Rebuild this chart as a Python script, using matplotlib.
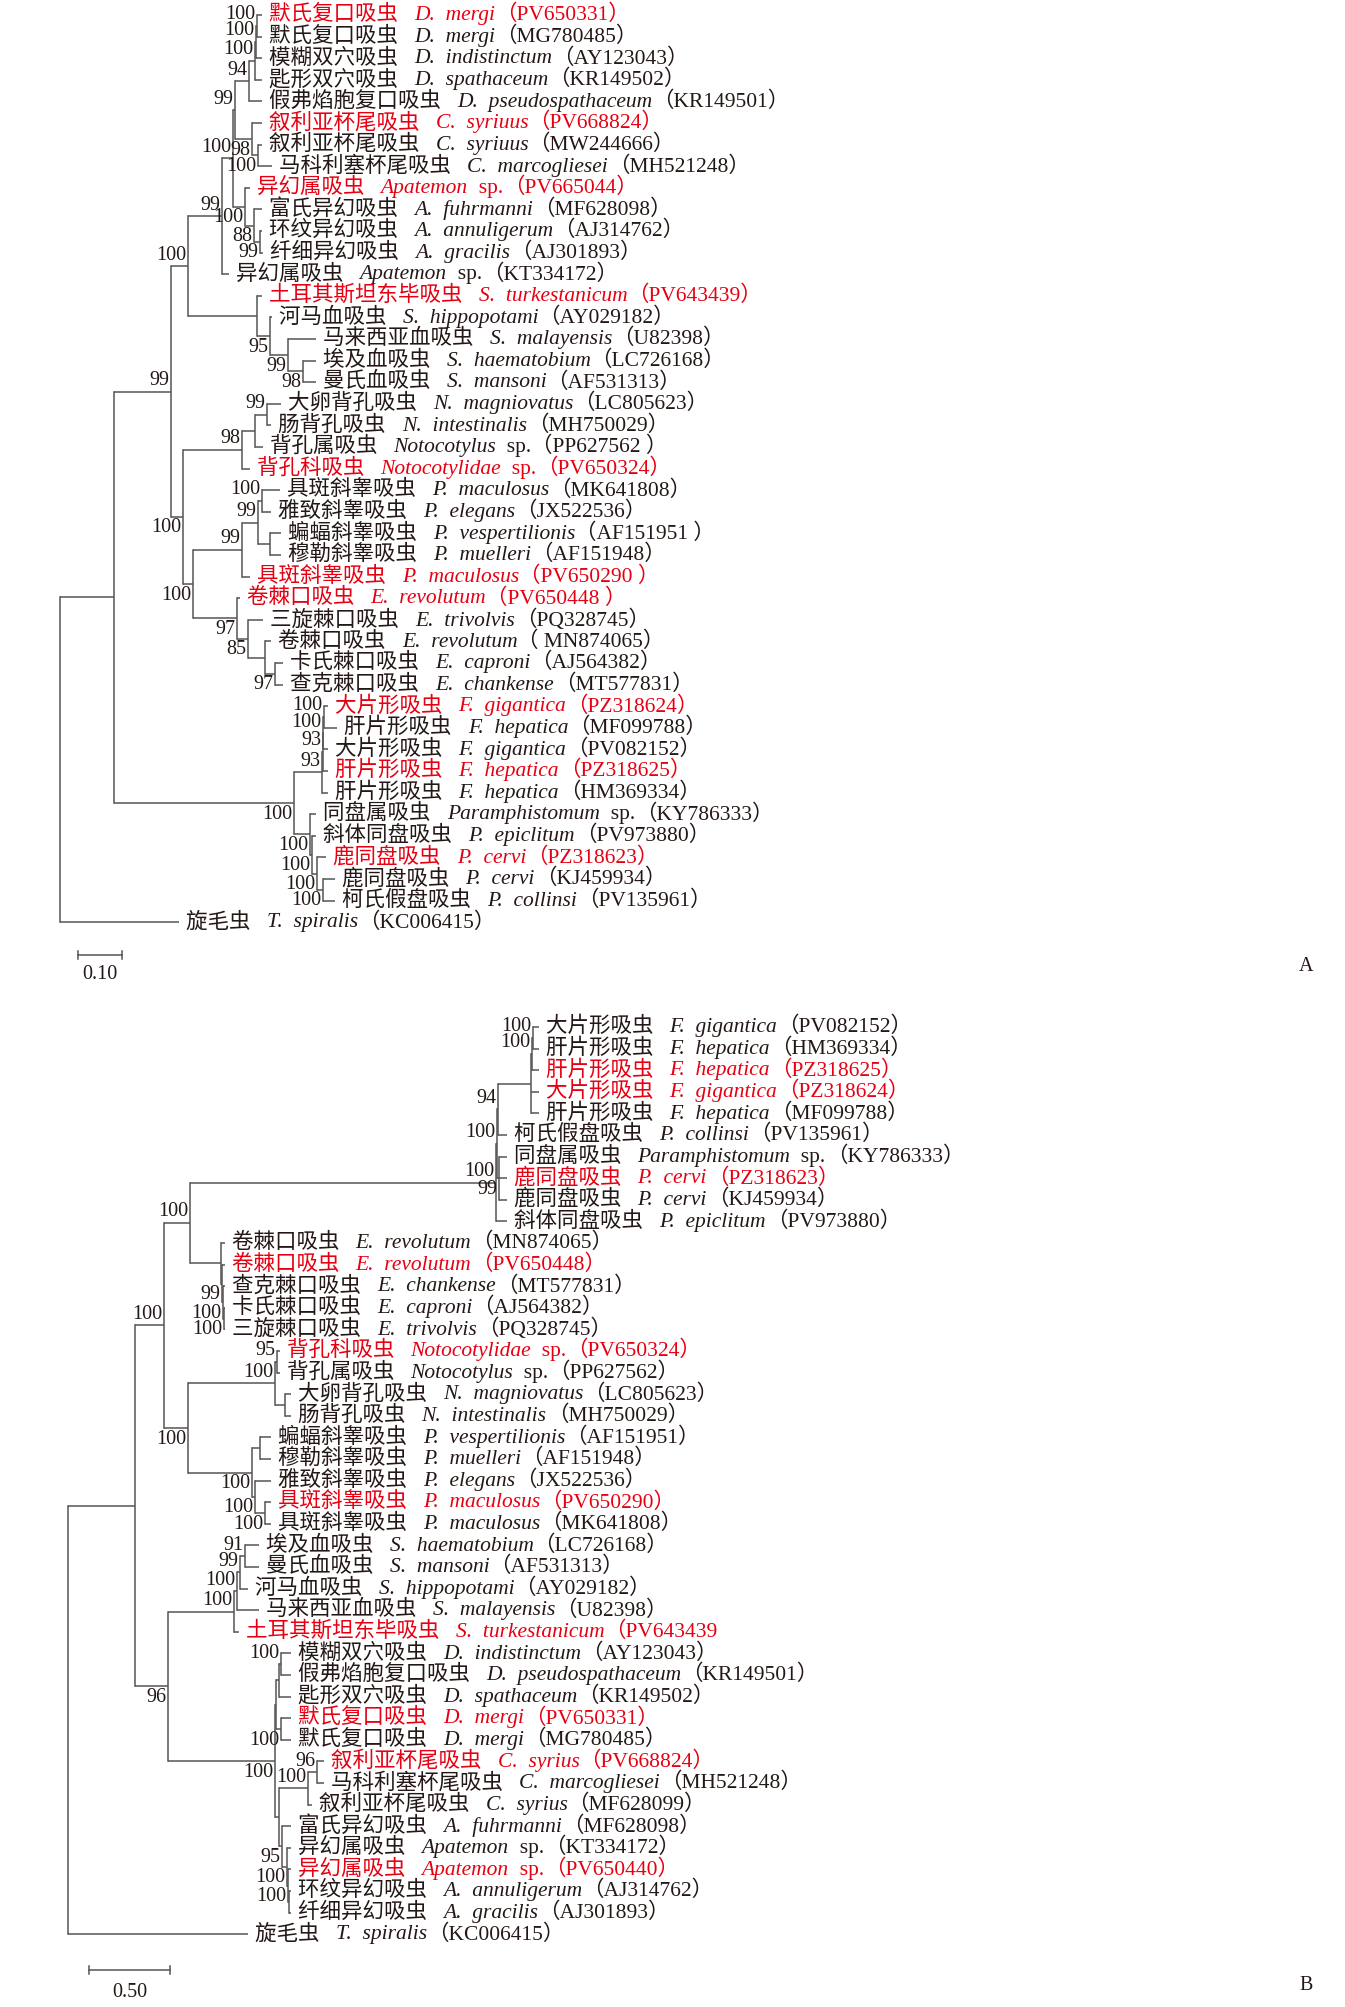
import matplotlib
matplotlib.use("Agg")
import matplotlib.pyplot as plt
from matplotlib.offsetbox import TextArea, HPacker, AnnotationBbox

# ------------------------------------------------------------------ data A
a_cn = ["默氏复口吸虫", "默氏复口吸虫", "模糊双穴吸虫", "匙形双穴吸虫", "假弗焰胞复口吸虫",
        "叙利亚杯尾吸虫", "叙利亚杯尾吸虫", "马科利塞杯尾吸虫", "异幻属吸虫", "富氏异幻吸虫",
        "环纹异幻吸虫", "纤细异幻吸虫", "异幻属吸虫", "土耳其斯坦东毕吸虫", "河马血吸虫",
        "马来西亚血吸虫", "埃及血吸虫", "曼氏血吸虫", "大卵背孔吸虫", "肠背孔吸虫",
        "背孔属吸虫", "背孔科吸虫", "具斑斜睾吸虫", "雅致斜睾吸虫", "蝙蝠斜睾吸虫",
        "穆勒斜睾吸虫", "具斑斜睾吸虫", "卷棘口吸虫", "三旋棘口吸虫", "卷棘口吸虫",
        "卡氏棘口吸虫", "查克棘口吸虫", "大片形吸虫", "肝片形吸虫", "大片形吸虫",
        "肝片形吸虫", "肝片形吸虫", "同盘属吸虫", "斜体同盘吸虫", "鹿同盘吸虫",
        "鹿同盘吸虫", "柯氏假盘吸虫", "旋毛虫"]
a_sp = ["D. mergi", "D. mergi", "D. indistinctum", "D. spathaceum", "D. pseudospathaceum",
        "C. syriuus", "C. syriuus", "C. marcogliesei", "Apatemon sp.", "A. fuhrmanni",
        "A. annuligerum", "A. gracilis", "Apatemon sp.", "S. turkestanicum", "S. hippopotami",
        "S. malayensis", "S. haematobium", "S. mansoni", "N. magniovatus", "N. intestinalis",
        "Notocotylus sp.", "Notocotylidae sp.", "P. maculosus", "P. elegans", "P. vespertilionis",
        "P. muelleri", "P. maculosus", "E. revolutum", "E. trivolvis", "E. revolutum",
        "E. caproni", "E. chankense", "F. gigantica", "F. hepatica", "F. gigantica",
        "F. hepatica", "F. hepatica", "Paramphistomum sp.", "P. epiclitum", "P. cervi",
        "P. cervi", "P. collinsi", "T. spiralis"]
a_acc = ["PV650331", "MG780485", "AY123043", "KR149502", "KR149501",
         "PV668824", "MW244666", "MH521248", "PV665044", "MF628098",
         "AJ314762", "AJ301893", "KT334172", "PV643439", "AY029182",
         "U82398", "LC726168", "AF531313", "LC805623", "MH750029",
         "PP627562 ", "PV650324", "MK641808", "JX522536", "AF151951 ",
         "AF151948", "PV650290 ", "PV650448 ", "PQ328745", " MN874065",
         "AJ564382", "MT577831", "PZ318624", "MF099788", "PV082152",
         "PZ318625", "HM369334", "KY786333", "PV973880", "PZ318623",
         "KJ459934", "PV135961", "KC006415"]
a_red = [0, 5, 8, 13, 21, 26, 27, 32, 35, 39]
a_tip = [0.459, 0.459, 0.459, 0.459, 0.459,
         0.459, 0.459, 0.482, 0.432, 0.459,
         0.459, 0.461, 0.384, 0.459, 0.482,
         0.582, 0.582, 0.582, 0.502, 0.480,
         0.461, 0.432, 0.500, 0.480, 0.502,
         0.502, 0.432, 0.409, 0.461, 0.480,
         0.507, 0.507, 0.609, 0.630, 0.609,
         0.609, 0.609, 0.582, 0.582, 0.605,
         0.625, 0.625, 0.2705]
# internal node = [depth, bootstrap, child, child, ...]; leaf = index
a_tree = [0.0, None,
          [0.1227, None,
           [0.2523, 99,
            [0.291, 100,
             [0.368, 99,
              [0.393, 100,
               [0.398, 99,
                [0.430, 94, [0.443, 100, [0.445, 100, [0.448, 100, 0, 1], 2], 3], 4],
                [0.436, 98, 5, [0.450, 100, 6, 7]]],
               [0.420, 100, 8, [0.441, 88, 9, [0.455, 99, 10, 11]]]],
              12],
             [0.448, None, 13, [0.477, 95, 14, [0.518, 99, 15, [0.552, 98, 16, 17]]]]],
            [0.2795, 100,
             [0.414, 98, [0.443, None, [0.470, 99, 18, 19], 20], 21],
             [0.302, 100,
              [0.414, 99, [0.450, 99, [0.459, 100, 22, 23], [0.477, None, 24, 25]], 26],
              [0.402, 97, 27, [0.427, 85, 28, [0.466, None, 29, [0.489, 97, 30, 31]]]]]]],
           [0.5318, 100,
            [0.595, 93, [0.598, 93, [0.598, 100, [0.600, 100, 32, 33], 34], 35], 36],
            [0.568, 100, 37, [0.573, 100, 38, [0.584, 100, 39, [0.598, 100, 40, 41]]]]]],
          42]
a_scale = 0.10

# ------------------------------------------------------------------ data B
b_cn = ["大片形吸虫", "肝片形吸虫", "肝片形吸虫", "大片形吸虫", "肝片形吸虫",
        "柯氏假盘吸虫", "同盘属吸虫", "鹿同盘吸虫", "鹿同盘吸虫", "斜体同盘吸虫",
        "卷棘口吸虫", "卷棘口吸虫", "查克棘口吸虫", "卡氏棘口吸虫", "三旋棘口吸虫",
        "背孔科吸虫", "背孔属吸虫", "大卵背孔吸虫", "肠背孔吸虫", "蝙蝠斜睾吸虫",
        "穆勒斜睾吸虫", "雅致斜睾吸虫", "具斑斜睾吸虫", "具斑斜睾吸虫", "埃及血吸虫",
        "曼氏血吸虫", "河马血吸虫", "马来西亚血吸虫", "土耳其斯坦东毕吸虫", "模糊双穴吸虫",
        "假弗焰胞复口吸虫", "匙形双穴吸虫", "默氏复口吸虫", "默氏复口吸虫", "叙利亚杯尾吸虫",
        "马科利塞杯尾吸虫", "叙利亚杯尾吸虫", "富氏异幻吸虫", "异幻属吸虫", "异幻属吸虫",
        "环纹异幻吸虫", "纤细异幻吸虫", "旋毛虫"]
b_sp = ["F. gigantica", "F. hepatica", "F. hepatica", "F. gigantica", "F. hepatica",
        "P. collinsi", "Paramphistomum sp.", "P. cervi", "P. cervi", "P. epiclitum",
        "E. revolutum", "E. revolutum", "E. chankense", "E. caproni", "E. trivolvis",
        "Notocotylidae sp.", "Notocotylus sp.", "N. magniovatus", "N. intestinalis", "P. vespertilionis",
        "P. muelleri", "P. elegans", "P. maculosus", "P. maculosus", "S. haematobium",
        "S. mansoni", "S. hippopotami", "S. malayensis", "S. turkestanicum", "D. indistinctum",
        "D. pseudospathaceum", "D. spathaceum", "D. mergi", "D. mergi", "C. syrius",
        "C. marcogliesei", "C. syrius", "A. fuhrmanni", "Apatemon sp.", "Apatemon sp.",
        "A. annuligerum", "A. gracilis", "T. spiralis"]
b_acc = ["PV082152", "HM369334", "PZ318625", "PZ318624", "MF099788",
         "PV135961", "KY786333", "PZ318623", "KJ459934", "PV973880",
         "MN874065", "PV650448", "MT577831", "AJ564382", "PQ328745",
         "PV650324", "PP627562", "LC805623", "MH750029", "AF151951",
         "AF151948", "JX522536", "PV650290", "MK641808", "LC726168",
         "AF531313", "AY029182", "U82398", "PV643439", "AY123043",
         "KR149501", "KR149502", "PV650331", "MG780485", "PV668824",
         "MH521248", "MF628099", "MF628098", "KT334172", "PV650440",
         "AJ314762", "AJ301893", "KC006415"]
b_red = [2, 3, 7, 11, 15, 22, 28, 32, 34, 39]
b_open = [28]   # accession printed without closing bracket
b_tip = [2.907, 2.907, 2.907, 2.907, 2.907,
         2.710, 2.710, 2.710, 2.710, 2.710,
         0.969, 0.969, 0.969, 0.969, 0.969,
         1.309, 1.309, 1.377, 1.377, 1.253,
         1.253, 1.253, 1.253, 1.253, 1.179,
         1.179, 1.111, 1.179, 1.056, 1.377,
         1.377, 1.377, 1.377, 1.377, 1.580,
         1.580, 1.506, 1.377, 1.377, 1.377,
         1.377, 1.377, 1.111]
b_tree = [0.0, None,
          [0.414, None,
           [0.593, 100,
            [0.753, 100,
             [2.642, 100,
              [2.648, 100,
               [2.654, 94, [2.858, None, [2.864, 100, [2.870, 100, 0, 1], 2], 3, 4], 5],
               [2.660, 99, 6, 7, 8]],
              9],
             [0.944, None, 10, [0.951, 99, 11, [0.957, 100, 12, [0.963, 100, 13, 14]]]]],
            [0.741, 100,
             [1.278, 100, [1.290, 95, 15, 16], [1.340, None, 17, 18]],
             [1.136, 100, [1.185, None, 19, 20], [1.154, 100, 21, [1.216, 100, 22, 23]]]]],
           [0.617, 96,
            [1.025, 100, [1.043, 100, [1.062, 99, [1.093, 91, 24, 25], 26], 27], 28],
            [1.278, 100,
             [1.284, None, [1.302, None, [1.315, 100, 29, 30], 31], [1.315, 100, 32, 33]],
             [1.302, None,
              [1.481, 100, [1.537, 96, 34, 35], 36],
              [1.321, 95, 37, [1.352, 100, 38, [1.358, 100, 39, [1.364, None, 40, 41]]]]]]]],
          42]
b_scale = 0.50

# ------------------------------------------------------------------ style
LAT = "Liberation Serif"
FAM = [LAT, "Noto Sans CJK SC"]
plt.rcParams['font.family'] = FAM
FS = 15.5      # leaf labels
FSB = 14.5     # bootstrap / scale labels
LW = 1.1
LINE = "#555555"
BLACK = "#231815"
RED = "#e60012"
W, H = 1345.0, 2007.0

fig = plt.figure(figsize=(W / 100, H / 100), dpi=100)


def make_axes(top_px, bot_px, x0_px, px_per_unit, y0_px, dy_px):
    ax = fig.add_axes([0, 1 - bot_px / H, 1, (bot_px - top_px) / H])
    ax.set_xlim(-x0_px / px_per_unit, (W - x0_px) / px_per_unit)
    ax.set_ylim((bot_px - y0_px) / dy_px, (top_px - y0_px) / dy_px)
    ax.axis('off')
    return ax


def draw_tree(ax, tree, tips, cn, sp, acc, red, open_idx=()):
    labels = []

    def rec(node):
        if isinstance(node, int):
            return tips[node], float(node)
        depth, kids = node[0], node[2:]
        pos = [rec(k) for k in kids]
        ys = [p[1] for p in pos]
        ax.plot([depth, depth], [ys[0], ys[-1]], color=LINE, lw=LW,
                solid_capstyle='projecting')
        for (cx, cy) in pos:
            ax.plot([depth, cx], [cy, cy], color=LINE, lw=LW, solid_capstyle='butt')
        for j, k in enumerate(kids):
            if not isinstance(k, int) and k[1] is not None:
                labels.append((k[0], pos[j][1], k[1], j < len(kids) - 1))
        return depth, (ys[0] + ys[-1]) / 2.0

    rec(tree)
    for x, y, s, above in labels:
        ax.annotate(str(s), (x, y), xytext=(-1.2, 8.0 if above else -8.0),
                    textcoords='offset points', ha='right', va='center',
                    fontsize=FSB, family=LAT, color=BLACK, annotation_clip=False)

    for i in range(len(cn)):
        col = RED if i in red else BLACK
        s = sp[i].replace(". ", ".  ")
        parts = [TextArea(cn[i] + "   ", textprops=dict(color=col, fontsize=FS, family=FAM))]
        if s.endswith(" sp."):
            parts.append(TextArea(s[:-4], textprops=dict(color=col, fontsize=FS, family=LAT,
                                                         style='italic')))
            parts.append(TextArea("  sp.", textprops=dict(color=col, fontsize=FS, family=LAT)))
        else:
            parts.append(TextArea(s, textprops=dict(color=col, fontsize=FS, family=LAT,
                                                    style='italic')))
        close = "" if i in open_idx else "）"
        parts.append(TextArea("（" + acc[i] + close,
                              textprops=dict(color=col, fontsize=FS, family=FAM)))
        box = HPacker(children=parts, sep=0, pad=0, align='baseline')
        ab = AnnotationBbox(box, (tips[i], i), xybox=(5.0, 0), xycoords='data',
                            boxcoords='offset points', box_alignment=(0, 0.5),
                            frameon=False, pad=0, annotation_clip=False)
        ax.add_artist(ab)


def scale_bar(ax, x0, y, length, label, ytext):
    ax.plot([x0, x0 + length], [y, y], color=LINE, lw=LW)
    for xx in (x0, x0 + length):
        ax.plot([xx, xx], [y - 0.17, y + 0.17], color=LINE, lw=LW)
    ax.text(x0 + length / 2, ytext, label, ha='center', va='center',
            fontsize=FSB, family=LAT, color=BLACK)


# ------------------------------------------------------------------ tree A
axA = make_axes(0, 1000, 60, 440.0, 15, 21.6)
draw_tree(axA, a_tree, a_tip, a_cn, a_sp, a_acc, a_red)
scale_bar(axA, 0.0409, 43.52, a_scale, "%.2f" % a_scale, 44.4)

# ------------------------------------------------------------------ tree B
axB = make_axes(1000, 2007, 68, 162.0, 1027, 21.6)
draw_tree(axB, b_tree, b_tip, b_cn, b_sp, b_acc, b_red, b_open)
scale_bar(axB, 0.1327, 43.66, b_scale, "%.2f" % b_scale, 44.7)

fig.text(1306 / W, 1 - 967 / H, "A", ha='center', va='center', fontsize=FSB,
         family=LAT, color=BLACK)
fig.text(1306 / W, 1 - 1985 / H, "B", ha='center', va='center', fontsize=FSB,
         family=LAT, color=BLACK)

fig.savefig("out.png", dpi=100, facecolor='white')
